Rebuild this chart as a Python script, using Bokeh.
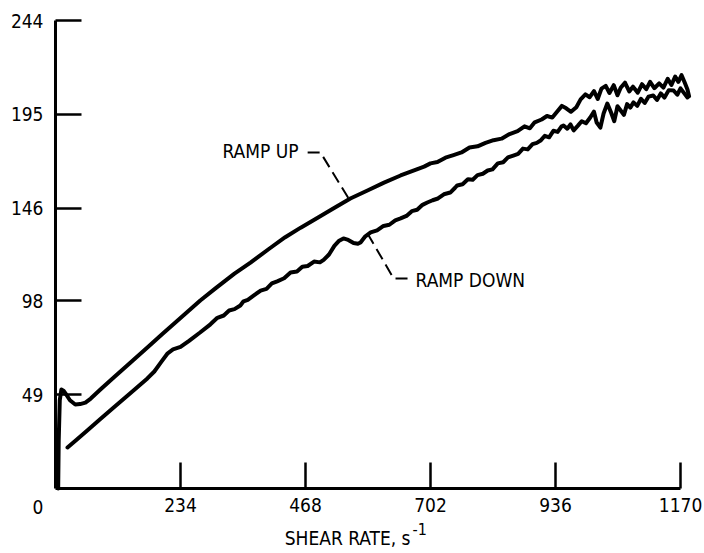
from bokeh.plotting import figure
from bokeh.models import Range1d, FixedTicker, Label
from bokeh.embed import file_html
from bokeh.resources import INLINE

# ---- data ----
x_ticks = [0, 234, 468, 702, 936, 1170]
y_ticks = [49, 98, 146, 195, 244]

ramp_up_x = [5, 6, 8, 11, 15, 20, 27, 37, 46, 56, 66, 84, 110, 140, 172, 200, 235, 271,
             300, 335, 365, 400, 430, 459, 490, 520, 552, 585, 615, 646, 675, 690, 702,
             715, 730, 745, 760, 775, 790, 805, 820, 835, 850, 865, 878, 888, 897, 910,
             920, 930, 940, 948, 956, 965, 975, 983, 992, 1000, 1008, 1015, 1022, 1030,
             1037, 1045, 1052, 1058, 1066, 1074, 1081, 1090, 1098, 1106, 1113, 1121, 1130,
             1138, 1146, 1153, 1160, 1166, 1172, 1178, 1183, 1186]
ramp_up_y = [0, 25, 46, 51.6, 51, 49, 46, 43.8, 44, 44.8, 46.9, 51.6, 58.1, 65.6, 73.5, 80.5, 89.1, 98,
             104.5, 112, 117.8, 125, 131, 136, 141, 146, 151.2, 155.5, 159.5, 163.2, 166.3, 167.8, 169.5,
             170.2, 172.5, 173.8, 175.2, 177.8, 178.4, 180.2, 181.6, 182.4, 184.8, 186.3, 188.8, 187.8, 190.9, 192.4,
             194.2, 193.4, 196.8, 199.5, 198.2, 196.4, 198.8, 202.9, 205.5, 204.0, 207.2, 203.1, 208.5, 209.9,
             206.2, 210.3, 205.0, 208.9, 211.6, 207.0, 209.5, 206.4, 210.8, 208.2, 212.0, 208.7, 211.2,
             209.0, 213.6, 210.4, 214.8, 212.0, 215.5, 211.5, 208.0, 204.5]

ramp_down_x = [22.5, 40, 60, 84, 110, 140, 172, 185, 198, 210, 220, 234, 250, 270, 290, 303, 315,
               325, 335, 346, 352, 360, 372, 384, 395, 405, 415, 428, 440, 452, 462, 472, 484,
               495, 502, 512, 522, 531, 539, 548, 558, 566, 571, 580, 590, 602, 614, 625, 636,
               646, 657, 667, 677, 687, 696, 706, 716, 727, 739, 748, 752, 762, 772, 781, 790,
               800, 809, 818, 828, 838, 847, 857, 866, 875, 884, 893, 901, 908, 916, 924, 932,
               940, 947, 951, 958, 964, 970, 978, 985, 993, 1001, 1008, 1013, 1020, 1026, 1033,
               1040, 1046, 1052, 1058, 1064, 1070, 1076, 1082, 1089, 1096, 1103, 1110, 1119, 1126,
               1133, 1140, 1148, 1157, 1164, 1170, 1176, 1183]
ramp_down_y = [21.4, 25.6, 30.4, 36.2, 42.5, 49.7, 57.4, 61, 66, 70.5, 72.5, 73.8, 77, 81.2, 85.6, 89.0, 90.2,
               92.8, 93.5, 95.4, 97.6, 98.4, 100.8, 103.2, 104.1, 106.9, 108.0, 109.6, 112.6, 113.1, 115.6, 116.0, 118.3,
               117.9, 119.2, 122.0, 126.5, 129.2, 130.4, 129.6, 128.0, 127.6, 128.3, 131.5, 133.5, 134.6, 136.9, 137.5, 139.8,
               140.8, 142.1, 144.6, 145.3, 147.9, 149.1, 150.3, 151.2, 153.4, 154.3, 156.8, 158.0, 158.6, 161.2, 161.0, 163.4,
               164.1, 165.8, 166.4, 169.5, 170.1, 172.6, 173.6, 174.5, 177.2, 176.8, 179.5, 180.2, 181.4, 183.9, 183.1, 186.5,
               185.9, 188.7, 189.3, 187.6, 189.8, 186.7, 189.2, 191.5, 190.4, 193.4, 196.5, 190.8, 188.2, 195.5, 200.7,
               196.0, 191.5, 199.3, 197.1, 194.8, 200.4, 198.6, 201.3, 199.5, 203.2, 201.0, 204.3, 204.9, 202.6,
               206.0, 203.8, 207.7, 207.5, 205.3, 208.6, 206.4, 203.9]

x_title = "SHEAR RATE, s"
x_title_sup = "-1"
label_up = "RAMP UP"
label_down = "RAMP DOWN"

FONT = "DejaVu Sans Condensed, sans-serif"
FS = "19px"

p = figure(width=704, height=553,
           x_range=Range1d(-102.96, 1214.9), y_range=Range1d(-33.89, 254.43),
           output_backend="svg", toolbar_location=None,
           min_border_left=0, min_border_right=0, min_border_top=0, min_border_bottom=0)

p.background_fill_color = "white"
p.border_fill_color = "white"
p.outline_line_color = None
p.xgrid.visible = False
p.ygrid.visible = False

for ax in (p.xaxis[0], p.yaxis[0]):
    ax.fixed_location = 0
    ax.axis_line_width = 3
    ax.axis_line_color = "black"
    ax.major_tick_line_width = 2.5
    ax.major_tick_line_color = "black"
    ax.major_tick_in = 26
    ax.major_tick_out = 0
    ax.minor_tick_line_color = None
    ax.major_label_text_font = FONT
    ax.major_label_text_font_size = FS
    ax.major_label_text_color = "black"

p.xaxis[0].ticker = FixedTicker(ticks=x_ticks[1:])
p.xaxis[0].bounds = (x_ticks[0], x_ticks[-1])
p.xaxis[0].major_label_standoff = 10
p.yaxis[0].ticker = FixedTicker(ticks=y_ticks)
p.yaxis[0].bounds = (0, y_ticks[-1])
p.yaxis[0].major_label_standoff = 12

# curves
p.line(ramp_up_x, ramp_up_y, line_color="black", line_width=4, line_join="round", line_cap="round")
p.line(ramp_down_x, ramp_down_y, line_color="black", line_width=4, line_join="round", line_cap="round")

# leader lines
p.line([472, 496, 548], [175.2, 175.2, 151.5], line_color="black", line_width=2, line_dash="12 6")
p.line([584, 633, 659], [133, 109.5, 109.5], line_color="black", line_width=2, line_dash="12 6")

p.add_layout(Label(x=455, y=176, text=label_up, text_align="right", text_baseline="middle",
                   text_font=FONT, text_font_size=FS, text_color="black"))
p.add_layout(Label(x=674, y=108.7, text=label_down, text_align="left", text_baseline="middle",
                   text_font=FONT, text_font_size=FS, text_color="black"))

# origin label "0"
p.add_layout(Label(x=-32.8, y=-9.4, text=str(x_ticks[0]), text_align="center", text_baseline="middle",
                   text_font=FONT, text_font_size=FS, text_color="black"))

# x axis title with superscript
p.add_layout(Label(x=664.6, y=-26.0, text=x_title, text_align="right", text_baseline="middle",
                   text_font=FONT, text_font_size=FS, text_color="black"))
p.add_layout(Label(x=668.3, y=-21.0, text=x_title_sup, text_align="left", text_baseline="middle",
                   text_font=FONT, text_font_size="16px", text_color="black"))

open("out.html", "w").write(file_html(p, INLINE))
